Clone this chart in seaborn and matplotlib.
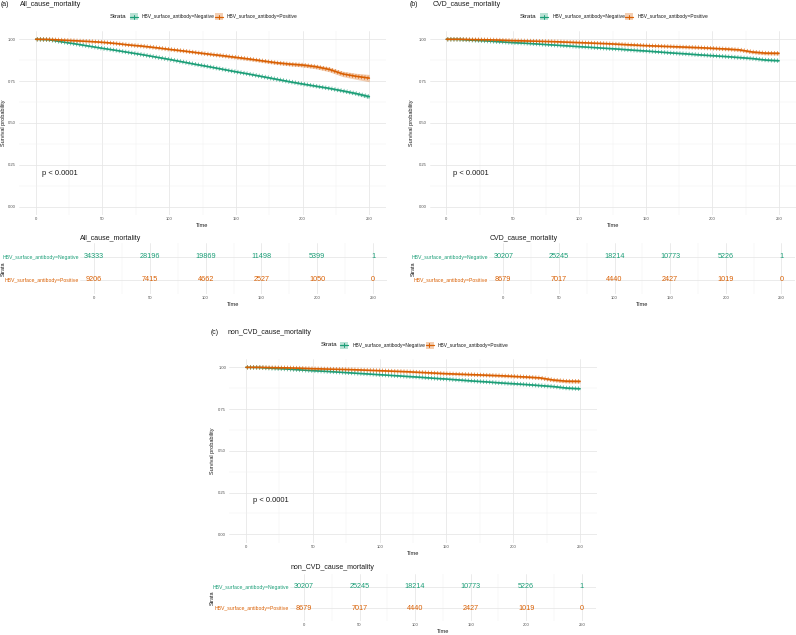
import numpy as np
import pandas as pd
import matplotlib
matplotlib.use("Agg")
import matplotlib.pyplot as plt
import seaborn as sns
from matplotlib import patheffects as pe
from matplotlib.patches import Rectangle
from matplotlib.lines import Line2D
from matplotlib.ticker import MultipleLocator

# ---------------- data ----------------
TIME = [0, 10, 20, 30, 40, 50, 60, 70, 80, 90, 100, 110, 120, 130, 140, 150,
        160, 170, 180, 190, 200, 210, 220, 230, 240, 250]

ALL_NEG = [1.000, 0.997, 0.984, 0.972, 0.959, 0.946, 0.934, 0.921, 0.908, 0.894,
           0.880, 0.865, 0.850, 0.836, 0.821, 0.806, 0.792, 0.777, 0.762, 0.747,
           0.733, 0.720, 0.707, 0.692, 0.676, 0.657]
ALL_POS = [1.000, 0.999, 0.995, 0.991, 0.987, 0.982, 0.975, 0.966, 0.959, 0.950,
           0.940, 0.931, 0.921, 0.911, 0.902, 0.892, 0.882, 0.871, 0.860, 0.852,
           0.846, 0.836, 0.820, 0.793, 0.779, 0.768]
ALL_NEG_CI = [0.000, 0.001, 0.002, 0.002, 0.002, 0.002, 0.003, 0.003, 0.003, 0.003,
              0.003, 0.003, 0.004, 0.004, 0.004, 0.004, 0.004, 0.005, 0.005, 0.005,
              0.005, 0.006, 0.006, 0.007, 0.008, 0.012]
ALL_POS_CI = [0.000, 0.001, 0.002, 0.003, 0.003, 0.004, 0.004, 0.004, 0.005, 0.005,
              0.005, 0.006, 0.006, 0.006, 0.007, 0.007, 0.008, 0.008, 0.009, 0.010,
              0.011, 0.012, 0.014, 0.016, 0.018, 0.022]

CVD_NEG = [1.000, 0.999, 0.994, 0.990, 0.985, 0.980, 0.976, 0.971, 0.966, 0.961,
           0.956, 0.951, 0.946, 0.941, 0.935, 0.930, 0.924, 0.918, 0.913, 0.907,
           0.902, 0.897, 0.891, 0.885, 0.876, 0.872]
CVD_POS = [1.000, 1.000, 0.998, 0.997, 0.995, 0.992, 0.990, 0.988, 0.986, 0.983,
           0.980, 0.977, 0.974, 0.970, 0.966, 0.962, 0.959, 0.956, 0.953, 0.950,
           0.946, 0.942, 0.937, 0.924, 0.917, 0.916]
CVD_NEG_CI = [0.000, 0.001, 0.001, 0.001, 0.002, 0.002, 0.002, 0.002, 0.002, 0.002,
              0.002, 0.002, 0.003, 0.003, 0.003, 0.003, 0.003, 0.003, 0.003, 0.003,
              0.004, 0.004, 0.004, 0.004, 0.005, 0.006]
CVD_POS_CI = [0.000, 0.001, 0.002, 0.002, 0.002, 0.003, 0.003, 0.003, 0.003, 0.003,
              0.004, 0.004, 0.004, 0.004, 0.005, 0.005, 0.005, 0.005, 0.006, 0.006,
              0.006, 0.007, 0.007, 0.008, 0.009, 0.010]

NONCVD_NEG = [1.000, 0.999, 0.994, 0.990, 0.985, 0.980, 0.976, 0.971, 0.966, 0.961,
              0.956, 0.951, 0.946, 0.941, 0.935, 0.930, 0.924, 0.918, 0.913, 0.907,
              0.902, 0.897, 0.891, 0.885, 0.876, 0.872]
NONCVD_POS = [1.000, 1.000, 0.998, 0.997, 0.995, 0.992, 0.990, 0.988, 0.986, 0.983,
              0.980, 0.977, 0.974, 0.970, 0.966, 0.962, 0.959, 0.956, 0.953, 0.950,
              0.946, 0.942, 0.937, 0.924, 0.917, 0.916]
NONCVD_NEG_CI = CVD_NEG_CI
NONCVD_POS_CI = CVD_POS_CI

RISK_TIMES = [0, 50, 100, 150, 200, 250]
ALL_RISK_NEG = [34333, 28196, 19869, 11498, 5399, 1]
ALL_RISK_POS = [9206, 7415, 4662, 2527, 1050, 0]
CVD_RISK_NEG = [30207, 25245, 18214, 10773, 5226, 1]
CVD_RISK_POS = [8679, 7017, 4440, 2427, 1019, 0]
NONCVD_RISK_NEG = [30207, 25245, 18214, 10773, 5226, 1]
NONCVD_RISK_POS = [8679, 7017, 4440, 2427, 1019, 0]

STRATA = ["HBV_surface_antibody=Negative", "HBV_surface_antibody=Positive"]
TITLES = ["All_cause_mortality", "CVD_cause_mortality", "non_CVD_cause_mortality"]
TAGS = ["(a)", "(b)", "(c)"]
PVALUE = "p < 0.0001"
Y_TICKS = [0.0, 0.25, 0.5, 0.75, 1.0]
Y_TICK_LABELS = ["0.00", "0.25", "0.50", "0.75", "1.00"]

# ---------------- style ----------------
sns.set_theme(style="white")
plt.rcParams["font.family"] = ["Liberation Sans", "DejaVu Sans"]
GREEN = "#1B9E77"
ORANGE = "#D95F02"
TXT = "#1A1A1A"
TICK = "#4D4D4D"

W, H = 796, 635
fig = plt.figure(figsize=(W / 100, H / 100), dpi=100)
fig.patch.set_facecolor("white")


def fx(x):
    return x / W


def fy(y):
    return 1 - y / H


def rect(l, t, r, b):
    return [l / W, 1 - b / H, (r - l) / W, (b - t) / H]


def style_grid(ax):
    for s in ax.spines.values():
        s.set_visible(False)
    ax.grid(which="major", color="#E6E6E6", lw=0.55)
    ax.grid(which="minor", color="#F1F1F1", lw=0.35)
    ax.set_axisbelow(True)


panels = [
    dict(neg=ALL_NEG, pos=ALL_POS, nci=ALL_NEG_CI, pci=ALL_POS_CI,
         rneg=ALL_RISK_NEG, rpos=ALL_RISK_POS,
         surv=(19.0, 30.9, 386.0, 215.1), risk=(80.0, 243.2, 387.0, 293.8),
         tag=(0.5, 5.0), title_x=20.0, leg_y=16.7, ylab_x=4.0, strata_x=3.0,
         rtitle_y=238.0),
    dict(neg=CVD_NEG, pos=CVD_POS, nci=CVD_NEG_CI, pci=CVD_POS_CI,
         rneg=CVD_RISK_NEG, rpos=CVD_RISK_POS,
         surv=(429.7, 30.9, 795.6, 215.1), risk=(489.4, 243.2, 795.2, 293.8),
         tag=(410.0, 5.0), title_x=433.0, leg_y=16.7, ylab_x=411.3, strata_x=413.0,
         rtitle_y=238.0),
    dict(neg=NONCVD_NEG, pos=NONCVD_POS, nci=NONCVD_NEG_CI, pci=NONCVD_POS_CI,
         rneg=NONCVD_RISK_NEG, rpos=NONCVD_RISK_POS,
         surv=(229.3, 359.0, 596.7, 542.7), risk=(290.1, 573.7, 595.6, 621.3),
         tag=(211.0, 333.0), title_x=228.0, leg_y=345.0, ylab_x=212.7, strata_x=212.7,
         rtitle_y=567.5),
]


def ticked(color):
    return [pe.TickedStroke(spacing=2.2, angle=90, length=0.65, linewidth=0.5, foreground=color, alpha=0.85),
            pe.TickedStroke(spacing=2.2, angle=-90, length=0.65, linewidth=0.5, foreground=color, alpha=0.85),
            pe.Normal()]


def draw_legend(cx, cy):
    fig.text(fx(cx - 92.5), fy(cy), "Strata", fontsize=4.5, color=TXT, ha="left", va="center")
    for k0, tx, col, lab in [(-73.0, -60.5, GREEN, STRATA[0]), (12.5, 24.5, ORANGE, STRATA[1])]:
        fig.add_artist(Rectangle((fx(cx + k0), fy(cy + 3.5)), 8 / W, 7 / H,
                                 transform=fig.transFigure, facecolor=col, alpha=0.3,
                                 edgecolor="none"))
        fig.add_artist(Line2D([fx(cx + k0), fx(cx + k0 + 8)], [fy(cy), fy(cy)],
                              transform=fig.transFigure, color=col, lw=0.9))
        fig.add_artist(Line2D([fx(cx + k0 + 4), fx(cx + k0 + 4)], [fy(cy - 2), fy(cy + 2)],
                              transform=fig.transFigure, color=col, lw=0.7))
        fig.text(fx(cx + tx), fy(cy), lab, fontsize=3.5, color=TXT, ha="left", va="center")


for i, p in enumerate(panels):
    # ---------- survival curves ----------
    l, t, r, b = p["surv"]
    ax = fig.add_axes(rect(l, t, r, b))
    style_grid(ax)
    for vals, ci, col in [(p["neg"], p["nci"], GREEN), (p["pos"], p["pci"], ORANGE)]:
        v = np.array(vals)
        c = np.array(ci)
        ax.fill_between(TIME, v - c, v + c, color=col, alpha=0.3, lw=0)
        sns.lineplot(x=TIME, y=vals, ax=ax, color=col, lw=1.2, estimator=None)
        ax.lines[-1].set_path_effects(ticked(col))
    ax.set_xlim(-12.5, 262.5)
    ax.set_ylim(-0.05, 1.05)
    ax.set_xticks(RISK_TIMES)
    ax.set_xticklabels([str(v) for v in RISK_TIMES])
    ax.set_yticks(Y_TICKS)
    ax.set_yticklabels(Y_TICK_LABELS)
    ax.xaxis.set_minor_locator(MultipleLocator(25))
    ax.yaxis.set_minor_locator(MultipleLocator(0.125))
    ax.tick_params(axis="y", which="major", length=1.6, width=0.4, color="#333333",
                   labelsize=3.0, labelcolor=TICK, pad=0.6)
    ax.tick_params(axis="x", which="major", length=0.8, width=0.4, color="#333333",
                   labelsize=3.0, labelcolor=TICK, pad=0.6)
    ax.tick_params(which="minor", length=0)
    ax.set_xlabel("")
    ax.set_ylabel("")
    ax.text(5, 0.2, PVALUE, fontsize=5.4, color=TXT, ha="left", va="center")

    cx = (l + r) / 2
    fig.text(fx(cx), fy(b + 10.5), "Time", fontsize=4.1, color=TXT, ha="center", va="center")
    fig.text(fx(p["ylab_x"]), fy((t + b) / 2), "Survival probability", fontsize=4.0,
             color=TXT, rotation=90, ha="center", va="center")
    fig.text(fx(p["tag"][0]), fy(p["tag"][1]), TAGS[i], fontsize=5.0, color=TXT,
             ha="left", va="center")
    fig.text(fx(p["title_x"]), fy(p["tag"][1]), TITLES[i], fontsize=5.0, color=TXT,
             ha="left", va="center")
    draw_legend(cx, p["leg_y"])

    # ---------- risk table ----------
    l, t, r, b = p["risk"]
    rx = fig.add_axes(rect(l, t, r, b))
    style_grid(rx)
    rx.set_xlim(-12.5, 262.5)
    rx.set_ylim(0.4, 2.6)
    for tm, n in zip(RISK_TIMES, p["rneg"]):
        rx.text(tm, 2, str(n), color=GREEN, fontsize=5.2, ha="center", va="center")
    for tm, n in zip(RISK_TIMES, p["rpos"]):
        rx.text(tm, 1, str(n), color=ORANGE, fontsize=5.2, ha="center", va="center")
    rx.set_xticks(RISK_TIMES)
    rx.set_xticklabels([str(v) for v in RISK_TIMES])
    rx.xaxis.set_minor_locator(MultipleLocator(25))
    rx.set_yticks([2, 1])
    rx.set_yticklabels(STRATA)
    for lab, col in zip(rx.get_yticklabels(), [GREEN, ORANGE]):
        lab.set_color(col)
    rx.tick_params(axis="y", which="major", length=0, labelsize=3.7, pad=0.8)
    rx.tick_params(axis="x", which="major", length=0, labelsize=3.0, labelcolor=TICK, pad=1.3)
    rx.tick_params(which="minor", length=0)
    rx.set_xlabel("")
    rx.set_ylabel("")
    fig.text(fx((l + r) / 2), fy(b + 10.3), "Time", fontsize=4.1, color=TXT,
             ha="center", va="center")
    fig.text(fx(p["strata_x"]), fy((t + b) / 2), "Strata", fontsize=4.0, color=TXT,
             rotation=90, ha="center", va="center")
    fig.text(fx(l), fy(p["rtitle_y"]), TITLES[i], fontsize=5.0, color=TXT,
             ha="left", va="center")

fig.savefig("out.png", dpi=100, facecolor="white")
